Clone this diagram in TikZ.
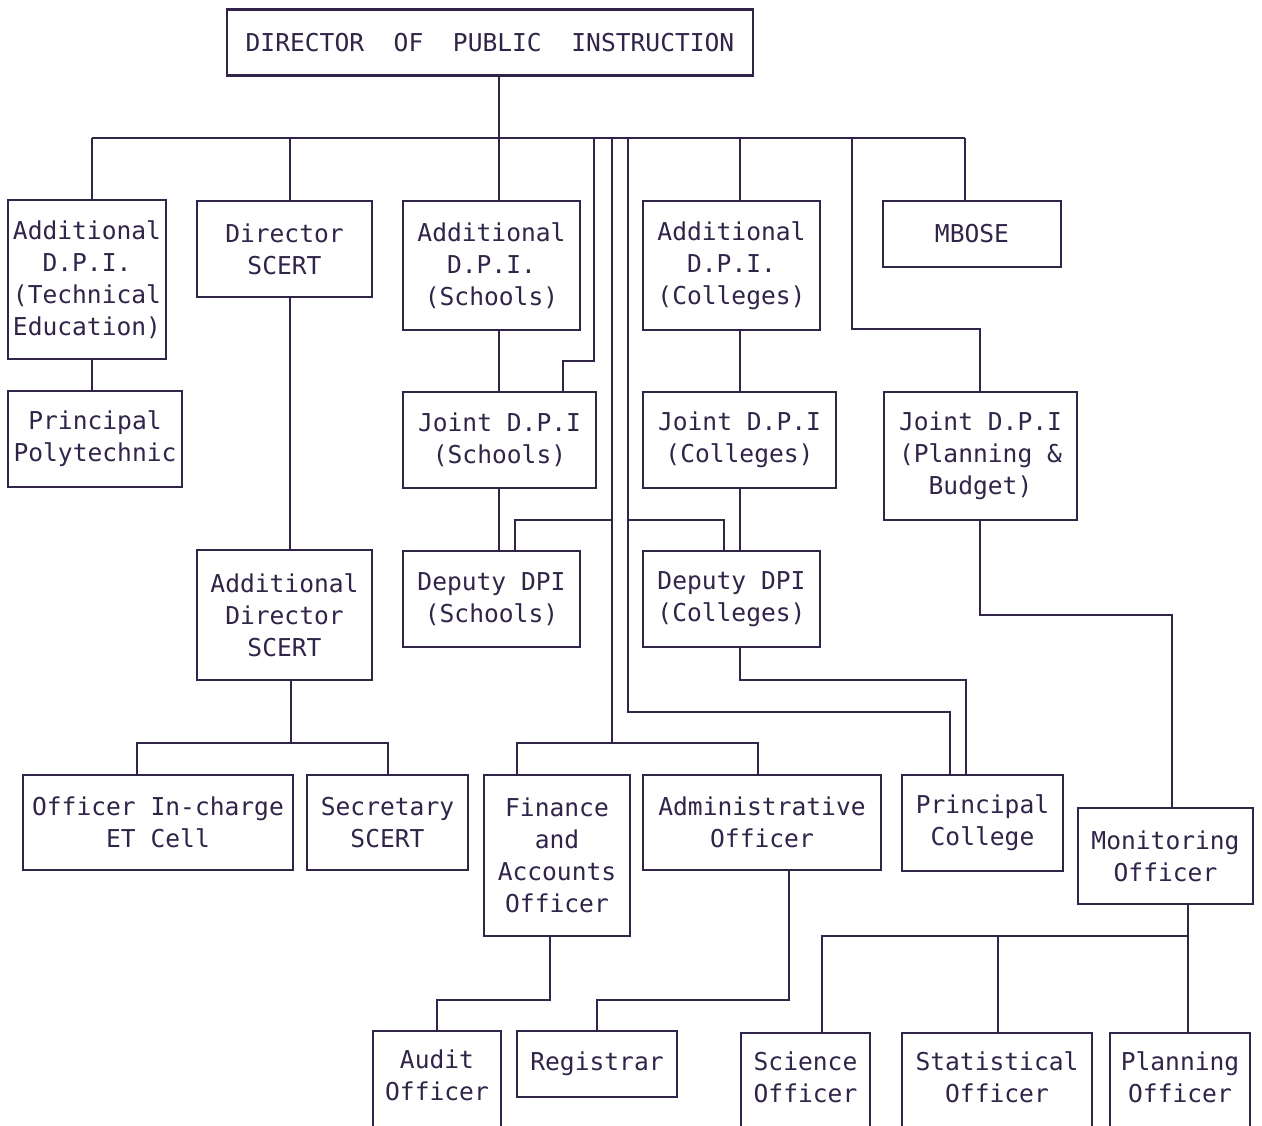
\documentclass[tikz,border=0pt]{standalone}
\usepackage{fontspec}
\usepackage{xcolor}
\usepackage{tikz}
\usetikzlibrary{calc}
\newfontfamily\dotmatrix{DejaVu Sans Mono}
\definecolor{inkpurple}{RGB}{48,36,72}
\tikzset{
  office/.style={rectangle, draw=inkpurple, line width=1.2pt, fill=white,
    text=inkpurple, font=\dotmatrix\fontsize{14}{18.2}\selectfont, align=center,
    inner sep=1pt},
  wire/.style={draw=inkpurple, line width=1.2pt},
}

\begin{document}
\begin{tikzpicture}[x=0.02cm, y=-0.02cm]
\useasboundingbox (0,0) rectangle (1262,1126);
\clip (0,0) rectangle (1262,1126);

\node[office, minimum width=10.52cm, minimum height=1.32cm] (dpi) at (490,42.5)
  {DIRECTOR\ \ OF\ \ PUBLIC\ \ INSTRUCTION};

\node[office, minimum width=3.16cm, minimum height=3.18cm] (tech) at (87,279.5)
  {Additional\\D.P.I.\\(Technical\\Education)};
\node[office, minimum width=3.48cm, minimum height=1.92cm] (poly) at (95,439)
  {Principal\\Polytechnic};
\node[office, minimum width=3.50cm, minimum height=1.92cm] (dirscert) at (284.5,249)
  {Director\\SCERT};
\node[office, minimum width=3.54cm, minimum height=2.58cm] (addsch) at (491.5,265.5)
  {Additional\\D.P.I.\\(Schools)};
\node[office, minimum width=3.54cm, minimum height=2.58cm] (addcol) at (731.5,265.5)
  {Additional\\D.P.I.\\(Colleges)};
\node[office, minimum width=3.56cm, minimum height=1.32cm] (mbose) at (972,234)
  {MBOSE};

\node[office, minimum width=3.86cm, minimum height=1.92cm] (jntsch) at (499.5,440)
  {Joint D.P.I\\(Schools)};
\node[office, minimum width=3.86cm, minimum height=1.92cm] (jntcol) at (739.5,440)
  {Joint D.P.I\\(Colleges)};
\node[office, minimum width=3.86cm, minimum height=2.56cm] (jntplan) at (980.5,456)
  {Joint D.P.I\\(Planning \&\\Budget)};

\node[office, minimum width=3.54cm, minimum height=1.92cm] (depsch) at (491.5,599)
  {Deputy DPI\\(Schools)};
\node[office, minimum width=3.54cm, minimum height=1.92cm] (depcol) at (731.5,599)
  {Deputy DPI\\(Colleges)};
\node[office, minimum width=3.50cm, minimum height=2.60cm] (adddir) at (284.5,615)
  {Additional\\Director\\SCERT};

\node[office, minimum width=5.40cm, minimum height=1.90cm] (etcell) at (158,822.5)
  {Officer In-charge\\ET Cell};
\node[office, minimum width=3.22cm, minimum height=1.90cm] (secscert) at (387.5,822.5)
  {Secretary\\SCERT};
\node[office, minimum width=2.92cm, minimum height=3.22cm] (finance) at (557,855.5)
  {Finance\\and\\Accounts\\Officer};
\node[office, minimum width=4.76cm, minimum height=1.90cm] (admin) at (762,822.5)
  {Administrative\\Officer};
\node[office, minimum width=3.22cm, minimum height=1.92cm] (prcol) at (982.5,823)
  {Principal\\College};
\node[office, minimum width=3.50cm, minimum height=1.92cm] (monitor) at (1165.5,856)
  {Monitoring\\Officer};

\node[office, minimum width=2.56cm, minimum height=2.40cm] (audit) at (437,1091)
  {Audit\\Officer\\~};
\node[office, minimum width=3.20cm, minimum height=1.32cm] (registrar) at (597,1064)
  {Registrar};
\node[office, minimum width=2.58cm, minimum height=2.40cm] (science) at (805.5,1093)
  {Science\\Officer\\~};
\node[office, minimum width=3.80cm, minimum height=2.40cm] (statistic) at (997,1093)
  {Statistical\\Officer\\~};
\node[office, minimum width=2.80cm, minimum height=2.40cm] (planning) at (1180,1093)
  {Planning\\Officer\\~};

\coordinate (cTech) at (92,138);
\coordinate (cScert) at (290,138);
\coordinate (cSch) at (499,138);
\coordinate (cR1) at (594,138);
\coordinate (cR2) at (612,138);
\coordinate (cR3) at (628,138);
\coordinate (cCol) at (740,138);
\coordinate (cR4) at (852,138);
\coordinate (cBose) at (965,138);

\draw[wire] (cTech) -- (cBose);
\draw[wire] (dpi.south -| cSch) -- (cSch);
\foreach \c/\n in {cTech/tech, cScert/dirscert, cSch/addsch, cCol/addcol, cBose/mbose}
  \draw[wire] (\c) -- (\c |- \n.north);

\draw[wire] (tech.south -| cTech) -- (poly.north -| cTech);
\draw[wire] (dirscert.south -| cScert) -- (adddir.north -| cScert);
\draw[wire] (addsch.south -| cSch) -- (jntsch.north -| cSch);
\draw[wire] (jntsch.south -| cSch) -- (depsch.north -| cSch);
\draw[wire] (addcol.south -| cCol) -- (jntcol.north -| cCol);
\draw[wire] (jntcol.south -| cCol) -- (depcol.north -| cCol);

\coordinate (jsIn) at (563,361);
\coordinate (dsIn) at (515,520);
\coordinate (dcIn) at (724,520);
\coordinate (faBus) at (612,743);
\coordinate (finIn) at (517,743);
\coordinate (admIn) at (758,743);
\coordinate (pcIn1) at (950,712);
\coordinate (pcIn2) at (966,680);
\coordinate (jpIn) at (980,329);
\coordinate (moIn) at (1172,615);

\draw[wire] (cR1) |- (jsIn) -- (jsIn |- jntsch.north);
\draw[wire] (cR2) -- (faBus);
\draw[wire] (cR2 |- dsIn) -| (depsch.north -| dsIn);
\draw[wire] (finance.north -| finIn) |- (admIn) -- (admIn |- admin.north);
\draw[wire] (cR3 |- dcIn) -| (depcol.north -| dcIn);
\draw[wire] (cR3) |- (pcIn1) -- (pcIn1 |- prcol.north);
\draw[wire] (depcol.south -| cCol) |- (pcIn2) -- (pcIn2 |- prcol.north);
\draw[wire] (cR4) |- (jpIn) -- (jpIn |- jntplan.north);
\draw[wire] (jntplan.south -| jpIn) |- (moIn) -- (moIn |- monitor.north);

\coordinate (scBus) at (291,743);
\coordinate (etIn) at (137,743);
\coordinate (secIn) at (388,743);
\draw[wire] (adddir.south -| scBus) -- (scBus);
\draw[wire] (etcell.north -| etIn) -- (etIn) -- (secIn) -- (secscert.north -| secIn);

\coordinate (faOut) at (550,1000);
\coordinate (adOut) at (789,1000);
\draw[wire] (finance.south -| faOut) -- (faOut) -| (audit.north);
\draw[wire] (admin.south -| adOut) -- (adOut) -| (registrar.north);

\coordinate (moOut) at (1188,936);
\coordinate (scIn) at (822,936);
\coordinate (stIn) at (998,936);
\draw[wire] (monitor.south -| moOut) -- (moOut);
\draw[wire] (science.north -| scIn) -- (scIn) -- (moOut) -- (planning.north -| moOut);
\draw[wire] (stIn) -- (statistic.north -| stIn);
\end{tikzpicture}
\end{document}
